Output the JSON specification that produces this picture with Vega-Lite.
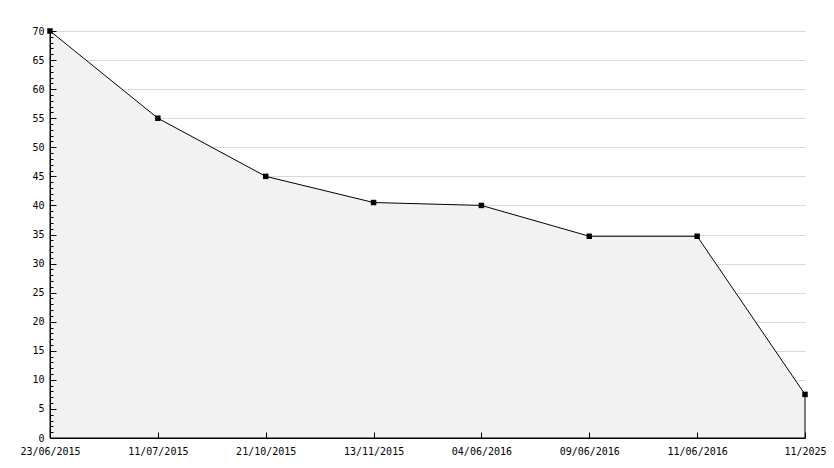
{
  "$schema": "https://vega.github.io/schema/vega-lite/v6.json",
  "width": 755,
  "height": 407,
  "autosize": "none",
  "padding": {"left": 50, "top": 31, "right": 29, "bottom": 30},
  "background": "white",
  "config": {"view": {"stroke": null}},
  "data": {"values": [
    {"date": "23/06/2015", "value": 70},
    {"date": "11/07/2015", "value": 55},
    {"date": "21/10/2015", "value": 45},
    {"date": "13/11/2015", "value": 40.5},
    {"date": "04/06/2016", "value": 40},
    {"date": "09/06/2016", "value": 34.7},
    {"date": "11/06/2016", "value": 34.7},
    {"date": "11/2025", "value": 7.5}
  ]},
  "encoding": {
    "x": {"field": "date", "type": "ordinal", "sort": null,
      "scale": {"type": "point", "padding": 0},
      "axis": {"title": null, "labelAngle": 0, "labelFont": "DejaVu Sans Mono", "labelFontSize": 10, "labelColor": "#000",
        "domainColor": "#000", "domainWidth": 1, "tickColor": "#000", "tickSize": -6, "labelPadding": 14, "grid": false, "zindex": 1}}
  },
  "resolve": {"axis": {"y": "independent"}},
  "layer": [
    {"mark": {"type": "area", "color": "#f2f2f2", "stroke": "#000", "strokeWidth": 1, "opacity": 1},
     "encoding": {
       "y": {"field": "value", "type": "quantitative",
         "scale": {"domain": [0, 70], "nice": false, "zero": true},
         "axis": {"title": null, "orient": "left", "zindex": 0, "values": [5,10,15,20,25,30,35,40,45,50,55,60,65,70],
           "labels": false, "ticks": false, "domain": false, "grid": true, "gridColor": "#d9d9d9"}}
     }},
    {"mark": {"type": "point", "shape": "square", "filled": true, "color": "#000", "size": 30, "opacity": 1},
     "encoding": {
       "y": {"field": "value", "type": "quantitative",
         "axis": {"title": null, "orient": "left", "zindex": 1,
           "values": [0,1,2,3,4,5,6,7,8,9,10,11,12,13,14,15,16,17,18,19,20,21,22,23,24,25,26,27,28,29,30,31,32,33,34,35,36,37,38,39,40,41,42,43,44,45,46,47,48,49,50,51,52,53,54,55,56,57,58,59,60,61,62,63,64,65,66,67,68,69,70],
           "labelExpr": "datum.value % 5 === 0 ? datum.label : ''",
           "labelFont": "DejaVu Sans Mono", "labelFontSize": 10, "labelColor": "#000",
           "domainColor": "#000", "tickColor": "#000",
           "tickSize": {"condition": {"test": "datum.value % 5 === 0", "value": -6}, "value": -3},
           "labelPadding": 12, "grid": false}}
     }}
  ]
}
